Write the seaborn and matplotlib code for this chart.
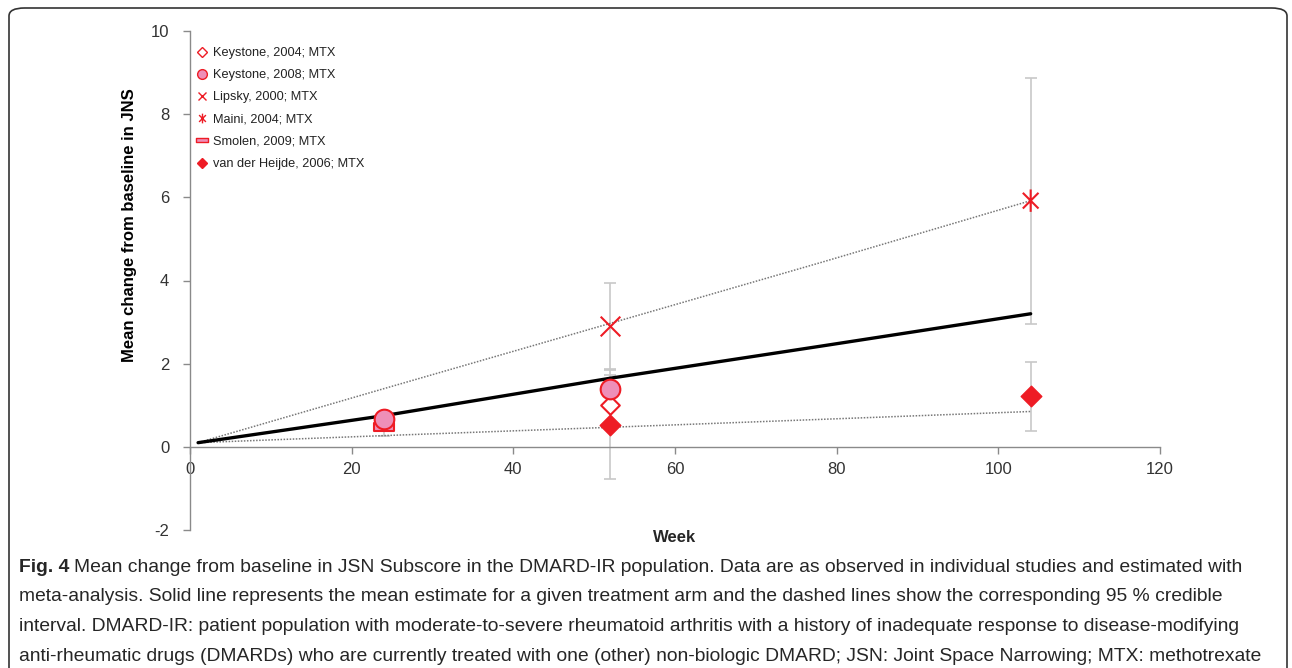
import numpy as np
import pandas as pd
import seaborn as sns
import matplotlib
matplotlib.use("Agg")
import matplotlib.pyplot as plt
from matplotlib.lines import Line2D
from matplotlib.patches import FancyBboxPatch
from matplotlib.path import Path

# ---------------- data ----------------
line_weeks = [1, 24, 52, 78, 104]
mean_est = [0.10, 0.75, 1.65, 2.42, 3.20]
upper_ci = [0.10, 1.40, 2.97, 4.43, 5.92]
lower_ci = [0.10, 0.27, 0.47, 0.66, 0.85]

studies = ["Keystone, 2004; MTX", "Keystone, 2008; MTX", "Lipsky, 2000; MTX",
           "Maini, 2004; MTX", "Smolen, 2009; MTX", "van der Heijde, 2006; MTX"]

pt_study = ["Keystone, 2004; MTX", "Keystone, 2008; MTX", "Keystone, 2008; MTX",
            "Lipsky, 2000; MTX", "Maini, 2004; MTX", "Smolen, 2009; MTX",
            "van der Heijde, 2006; MTX", "van der Heijde, 2006; MTX"]
pt_week = [52, 24, 52, 52, 104, 24, 52, 104]
pt_value = [1.01, 0.68, 1.38, 2.90, 5.92, 0.47, 0.52, 1.22]
pt_lo = [0.97, 0.68, 1.00, 1.87, 2.96, 0.27, -0.77, 0.38]
pt_hi = [1.06, 0.68, 1.73, 3.93, 8.87, 0.62, 1.85, 2.05]

x_ticks = [0, 20, 40, 60, 80, 100, 120]
y_ticks = [-2, 0, 2, 4, 6, 8, 10]

caption_lines = [
    "Mean change from baseline in JSN Subscore in the DMARD-IR population. Data are as observed in individual studies and estimated with",
    "meta-analysis. Solid line represents the mean estimate for a given treatment arm and the dashed lines show the corresponding 95 % credible",
    "interval. DMARD-IR: patient population with moderate-to-severe rheumatoid arthritis with a history of inadequate response to disease-modifying",
    "anti-rheumatic drugs (DMARDs) who are currently treated with one (other) non-biologic DMARD; JSN: Joint Space Narrowing; MTX: methotrexate",
]

# ---------------- style ----------------
sns.set_theme(style="white")
plt.rcParams['font.family'] = ['Liberation Sans', 'DejaVu Sans']

W, H = 1292, 668
fig = plt.figure(figsize=(W / 100, H / 100), dpi=100)
ax = fig.add_axes([190 / W, 1 - 530 / H, (1160 - 190) / W, (530 - 31) / H])

lines_df = pd.DataFrame({"week": line_weeks, "mean": mean_est, "upper": upper_ci, "lower": lower_ci})
sns.lineplot(data=lines_df, x="week", y="upper", ax=ax, color="#777777", lw=1.1,
             linestyle=(0, (1, 1)), zorder=2)
sns.lineplot(data=lines_df, x="week", y="lower", ax=ax, color="#777777", lw=1.1,
             linestyle=(0, (1, 1)), zorder=2)
sns.lineplot(data=lines_df, x="week", y="mean", ax=ax, color="black", lw=2.4, zorder=3)

pts = pd.DataFrame({"study": pt_study, "week": pt_week, "value": pt_value, "lo": pt_lo, "hi": pt_hi})

# error bars
eb = pts[pts["hi"] > pts["lo"]]
ax.errorbar(eb["week"], eb["value"], yerr=[eb["value"] - eb["lo"], eb["hi"] - eb["value"]],
            fmt="none", ecolor="#c8c8c8", elinewidth=1.2, capsize=4, capthick=1.2, zorder=1)

red = "#ee1c25"
pink = "#ee8fb8"
bar_marker = Path([(-1, -0.35), (1, -0.35), (1, 0.35), (-1, 0.35), (-1, -0.35)],
                  [Path.MOVETO, Path.LINETO, Path.LINETO, Path.LINETO, Path.CLOSEPOLY])
star_marker = Path([(-0.7, -0.7), (0.7, 0.7), (-0.7, 0.7), (0.7, -0.7), (0, -1), (0, 1)],
                   [Path.MOVETO, Path.LINETO, Path.MOVETO, Path.LINETO, Path.MOVETO, Path.LINETO])

styles = {
    "Keystone, 2004; MTX": dict(marker="D", s=90, facecolor="white", edgecolor=red, linewidth=1.5),
    "Keystone, 2008; MTX": dict(marker="o", s=200, facecolor=pink, edgecolor=red, linewidth=1.5),
    "Lipsky, 2000; MTX": dict(marker="x", s=200, color=red, linewidth=1.5),
    "Maini, 2004; MTX": dict(marker=star_marker, s=260, facecolor="none", edgecolor=red, linewidth=1.5),
    "Smolen, 2009; MTX": dict(marker=bar_marker, s=220, facecolor=pink, edgecolor=red, linewidth=1.5),
    "van der Heijde, 2006; MTX": dict(marker="D", s=110, facecolor=red, edgecolor=red, linewidth=1.0),
}
order = ["Smolen, 2009; MTX", "van der Heijde, 2006; MTX", "Keystone, 2004; MTX",
         "Keystone, 2008; MTX", "Lipsky, 2000; MTX", "Maini, 2004; MTX"]
for st in order:
    sub = pts[pts["study"] == st]
    sns.scatterplot(data=sub, x="week", y="value", ax=ax, zorder=5, legend=False, **styles[st])

# axes
ax.set_xlim(0, 120)
ax.set_ylim(-2, 10)
ax.set_xticks(x_ticks)
ax.set_yticks(y_ticks)
ax.set_xticklabels([str(v) for v in x_ticks])
ax.set_yticklabels([str(v) for v in y_ticks])
for s in ["top", "right"]:
    ax.spines[s].set_visible(False)
ax.spines["bottom"].set_position(("data", 0))
for s in ["left", "bottom"]:
    ax.spines[s].set_color("#8a8a8a")
    ax.spines[s].set_linewidth(1.0)
ax.tick_params(axis="both", direction="out", length=5, width=1.0, color="#8a8a8a",
               labelsize=12, labelcolor="#333333", bottom=True, left=True)
ax.tick_params(axis="x", pad=6)
ax.tick_params(axis="y", pad=10)
ax.grid(False)
ax.set_facecolor("none")

ax.set_xlabel("")
ax.set_ylabel("Mean change from baseline in JNS", fontsize=12, fontweight="bold", color="black")
fig.text(675 / W, 1 - 538 / H, "Week", ha="center", va="center", fontsize=12, fontweight="bold")
ax.yaxis.set_label_coords((137 - 190) / 970, (530 - 225) / 499)

# legend
handles = [
    Line2D([], [], linestyle="none", marker="D", markersize=5, markerfacecolor="white", markeredgecolor=red, markeredgewidth=1),
    Line2D([], [], linestyle="none", marker="o", markersize=7, markerfacecolor=pink, markeredgecolor=red, markeredgewidth=1),
    Line2D([], [], linestyle="none", marker="x", markersize=6, color=red, markeredgewidth=1),
    Line2D([], [], linestyle="none", marker=star_marker, markersize=7, color=red, markeredgewidth=1),
    Line2D([], [], linestyle="none", marker=bar_marker, markersize=8, markerfacecolor=pink, markeredgecolor=red, markeredgewidth=1),
    Line2D([], [], linestyle="none", marker="D", markersize=5, markerfacecolor=red, markeredgecolor=red),
]
leg = ax.legend(handles, studies, loc="upper left", bbox_to_anchor=(8 / 970, 1 - (47 - 31) / 499),
                frameon=False, fontsize=9.2, handlelength=0.7, handletextpad=0.45,
                labelspacing=0.8, borderaxespad=0, borderpad=0)
for t in leg.get_texts():
    t.set_color("#222222")

# caption
fig.canvas.draw()
r = fig.canvas.get_renderer()
y0 = 567
cap_size = 13.9
bold = fig.text(19 / W, 1 - y0 / H, "Fig. 4", fontsize=cap_size, fontweight="bold",
                ha="left", va="center")
bb = bold.get_window_extent(renderer=r)
fig.text((bb.x1 + 5) / W, 1 - y0 / H, caption_lines[0], fontsize=cap_size,
         ha="left", va="center")
for i, ln in enumerate(caption_lines[1:]):
    fig.text(19 / W, 1 - (y0 + 29.7 * (i + 1)) / H, ln, fontsize=cap_size,
             ha="left", va="center")

# rounded border
box = FancyBboxPatch((9 / W, -20 / H), (1287 - 9) / W, (668 - 8 + 20) / H,
                     boxstyle="round,pad=0,rounding_size=0.012", transform=fig.transFigure,
                     facecolor="none", edgecolor="#333333", linewidth=1.2, zorder=10)
fig.patches.append(box)

fig.savefig("out.png", dpi=100)
